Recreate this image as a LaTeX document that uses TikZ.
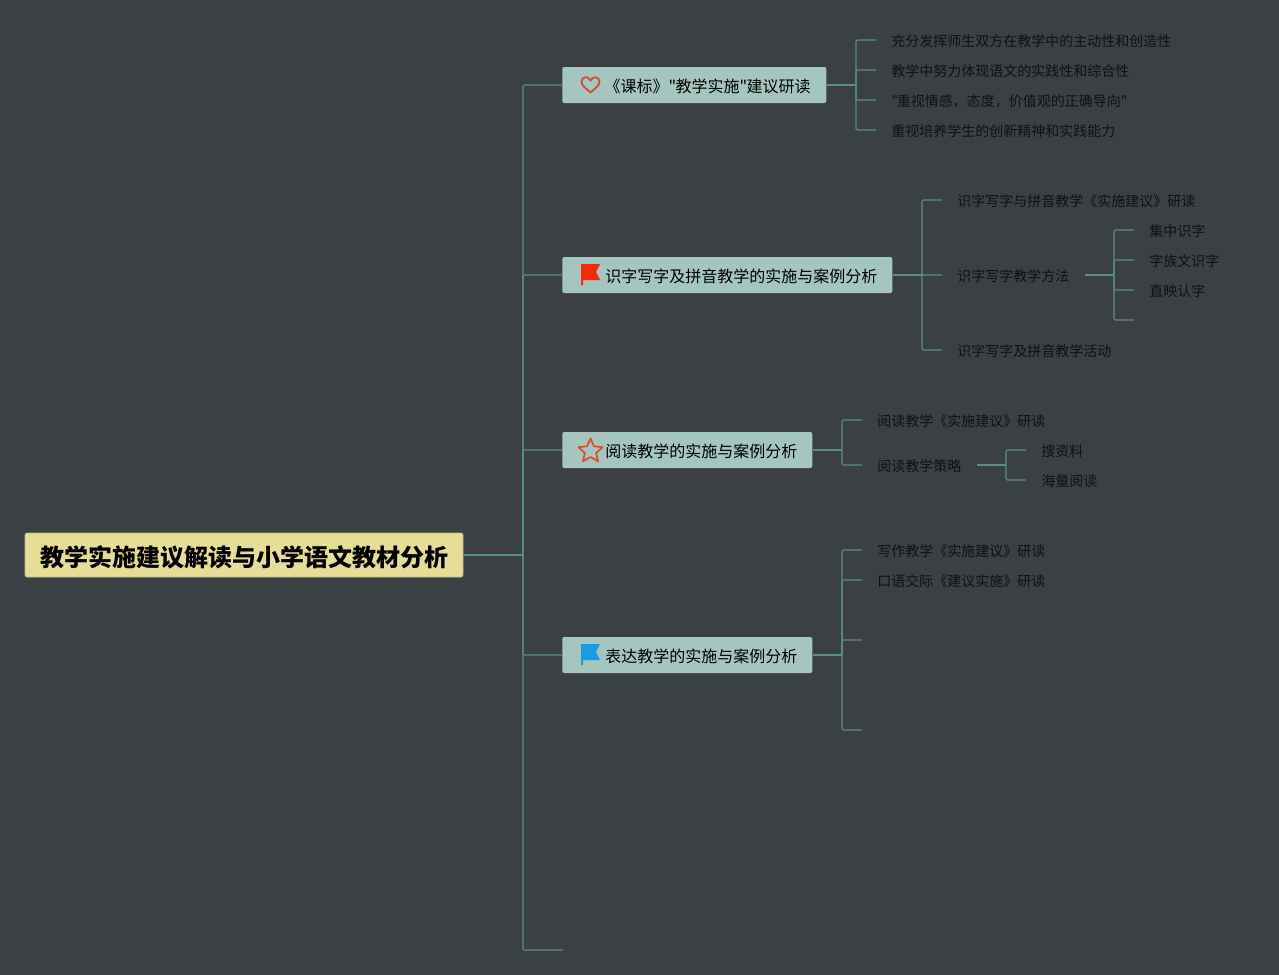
\documentclass[tikz,border=0pt]{standalone}
\usepackage{fontspec}
\newfontfamily\cjkfam{Noto Sans CJK SC}
\definecolor{bgc}{HTML}{3A4043}
\definecolor{linec}{HTML}{5A8F83}
\definecolor{rootc}{HTML}{E6DE96}
\definecolor{subc}{HTML}{A5C6BE}
\definecolor{leafc}{HTML}{101213}
\definecolor{heartc}{HTML}{CB4F3B}
\definecolor{starc}{HTML}{E2492F}
\definecolor{redf}{HTML}{F42A0C}
\definecolor{bluef}{HTML}{189CE4}
\tikzset{
  rootbox/.style={anchor=center,fill=rootc,draw=rootc!85!black,line width=0.4pt,rounded corners=1.5pt,inner xsep=9.25pt,inner ysep=0pt,minimum height=33pt,text width=310pt,align=center,text height=20pt,text depth=3.3pt,font=\fontsize{18}{22}\selectfont\cjkfam\bfseries,text=black},
  subbox/.style={anchor=west,fill=subc,rounded corners=1.5pt,inner xsep=11.25pt,inner ysep=0pt,minimum height=27pt,align=right,text height=13.6pt,text depth=3pt,font=\fontsize{12}{15}\selectfont\cjkfam,text=black,text width=#1},
  leaf/.style={anchor=west,inner xsep=11.25pt,inner ysep=0pt,text height=12pt,text depth=2.5pt,font=\fontsize{10.5}{13}\selectfont\cjkfam,text=leafc},
  conn/.style={draw=linec,line width=0.8pt,rounded corners=1pt},
  connmain/.style={draw=linec,line width=1.1pt}
}
\begin{document}
\begin{tikzpicture}[x=0.75pt,y=-0.75pt]
\path[use as bounding box,fill=bgc] (0,0) rectangle (1279,975);

% junctions and free ends
\coordinate (trunk) at (523,555);
\coordinate (j1) at (856,85);
\coordinate (j2) at (922,275);
\coordinate (j2b) at (1114,275);
\coordinate (j3) at (842,450);
\coordinate (j3b) at (1006,465);
\coordinate (j4) at (842,655);
\coordinate (e5) at (563,950);
\coordinate (e2b) at (1134,320);
\coordinate (e4a) at (862,640);
\coordinate (e4b) at (862,730);

% nodes
\node[rootbox] (root) at (244,555) {\hspace*{0.3pt}教学实施建议解读与小学语文教材分析};
\node[subbox=175.5pt] (s1) at (562,85) {《课标》"\kern-0.4pt教学实施"\kern-0.4pt建议研读\hspace*{0.5pt}};
\node[subbox=225pt] (s2) at (562,275) {识字写字及拼音教学的实施与案例分析};
\node[subbox=165pt] (s3) at (562,450) {阅读教学的实施与案例分析};
\node[subbox=165pt] (s4) at (562,655) {表达教学的实施与案例分析};

\node[leaf] (a1) at (876,40) {充分发挥师生双方在教学中的主动性和创造性};
\node[leaf] (a2) at (876,70) {教学中努力体现语文的实践性和综合性};
\node[leaf] (a3) at (876,100) {"\kern-0.7pt重视情感，态度，价值观的正确导向\kern-0.3pt"};
\node[leaf] (a4) at (876,130) {重视培养学生的创新精神和实践能力};

\node[leaf] (b1) at (942,200) {识字写字与拼音教学《实施建议》研读};
\node[leaf] (b2) at (942,275) {识字写字教学方法};
\node[leaf] (b3) at (942,350) {识字写字及拼音教学活动};
\node[leaf] (c1) at (1134,230) {集中识字};
\node[leaf] (c2) at (1134,260) {字族文识字};
\node[leaf] (c3) at (1134,290) {直映认字};

\node[leaf] (d1) at (862,420) {阅读教学《实施建议》研读};
\node[leaf] (d2) at (862,465) {阅读教学策略};
\node[leaf] (f1) at (1026,450) {搜资料};
\node[leaf] (f2) at (1026,480) {海量阅读};

\node[leaf] (g1) at (862,550) {写作教学《实施建议》研读};
\node[leaf] (g2) at (862,580) {口语交际《建议实施》研读};

% connectors
\draw[connmain] (root.east) -- (trunk);
\foreach \t in {s1,s2,s3,s4} \draw[conn] (trunk) |- (\t.west);
\draw[conn] (trunk) |- (e5);

\draw[connmain] (s1.east) -- (j1);
\foreach \t in {a1,a2,a3,a4} \draw[conn] (j1) |- (\t.west);

\draw[connmain] (s2.east) -- (j2);
\foreach \t in {b1,b2,b3} \draw[conn] (j2) |- (\t.west);
\draw[connmain] (b2.east) -- (j2b);
\foreach \t in {c1,c2,c3} \draw[conn] (j2b) |- (\t.west);
\draw[conn] (j2b) |- (e2b);

\draw[connmain] (s3.east) -- (j3);
\foreach \t in {d1,d2} \draw[conn] (j3) |- (\t.west);
\draw[connmain] (d2.east) -- (j3b);
\foreach \t in {f1,f2} \draw[conn] (j3b) |- (\t.west);

\draw[connmain] (s4.east) -- (j4);
\foreach \t in {g1,g2} \draw[conn] (j4) |- (\t.west);
\draw[conn] (j4) |- (e4a);
\draw[conn] (j4) |- (e4b);

% icons
\draw[heartc,line width=1.4pt,line join=round]
  (590.5,92.5) .. controls (586,88.5) and (581.5,85.5) .. (581.5,81.8)
  .. controls (581.5,76.5) and (588.5,75.5) .. (590.5,80.5)
  .. controls (592.5,75.5) and (599.5,76.5) .. (599.5,81.8)
  .. controls (599.5,85.5) and (595,88.5) .. (590.5,92.5) -- cycle;
\fill[redf] (581,264) -- (600,264) -- (596,272) -- (600,280) -- (583,280) -- (583,285) -- (581,285) -- cycle;
\draw[starc,line width=1.3pt,line join=round]
  (590.5,438.5) -- (594,446.3) -- (602.5,447.2) -- (596.2,453) -- (598,461.3)
  -- (590.5,457) -- (583,461.3) -- (584.8,453) -- (578.5,447.2) -- (587,446.3) -- cycle;
\fill[bluef] (581,644) -- (600,644) -- (596,652) -- (600,660) -- (583,660) -- (583,665) -- (581,665) -- cycle;
\end{tikzpicture}
\end{document}
